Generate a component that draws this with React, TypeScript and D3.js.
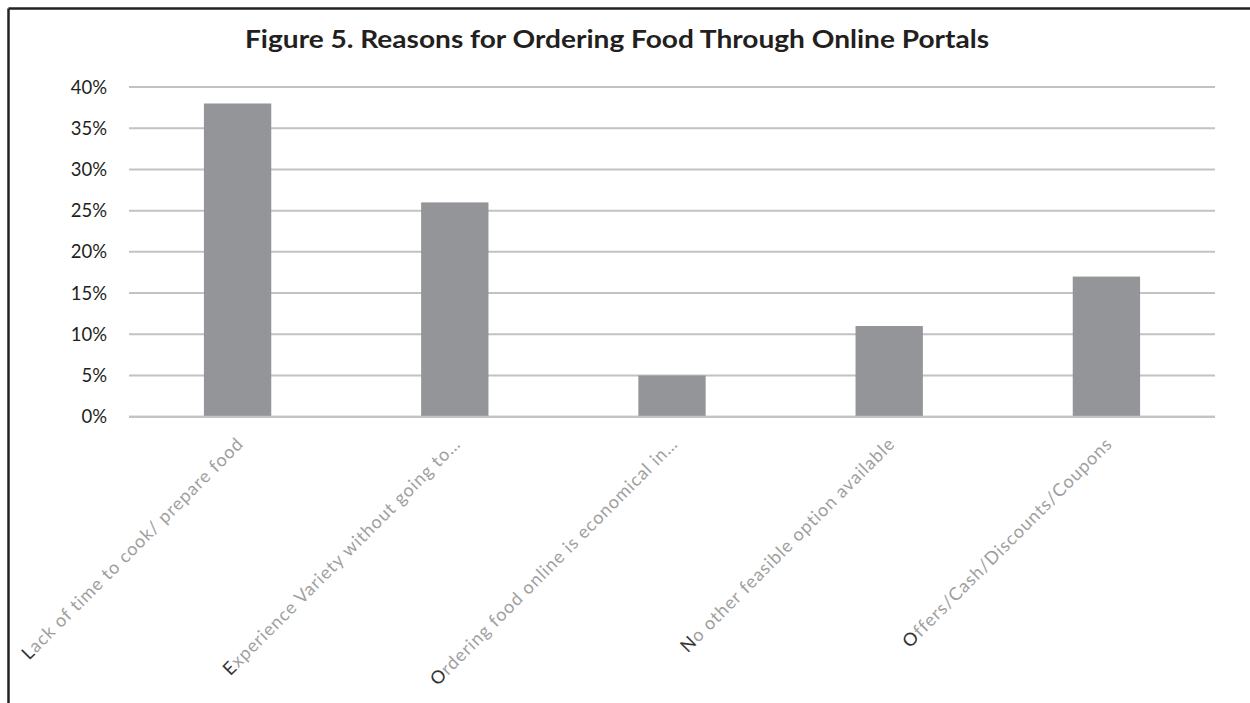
import React from "react";
import * as d3 from "d3";

const title = "Figure 5. Reasons for Ordering Food Through Online Portals";
const categories = [
  "Lack of time to cook/ prepare food",
  "Experience Variety without going to…",
  "Ordering food online is economical in…",
  "No other feasible option available",
  "Offers/Cash/Discounts/Coupons",
];
const values = [0.38, 0.26, 0.05, 0.11, 0.17];
const yTicks = [0, 0.05, 0.1, 0.15, 0.2, 0.25, 0.3, 0.35, 0.4];

export default function App() {
  const W = 1250;
  const H = 703;
  const x = d3
    .scaleBand<string>()
    .domain(categories)
    .range([129, 1215])
    .paddingInner(0.69)
    .paddingOuter(0.345);
  const y = d3.scaleLinear().domain([0, 0.4]).range([416.7, 87]);
  const fmt = d3.format(".0%");
  const font = "Lato, 'Open Sans', 'DejaVu Sans', sans-serif";

  return (
    <svg
      width={W}
      height={H}
      style={{ position: "absolute", left: 0, top: 0, background: "#fff" }}
    >
      <rect x={0} y={0} width={W} height={H} fill="#fff" />
      {/* frame */}
      <line x1={8.5} y1={8.5} x2={W} y2={8.5} stroke="#222" strokeWidth={2.5} />
      <line x1={8.5} y1={8.5} x2={8.5} y2={H} stroke="#222" strokeWidth={2.5} />

      <text
        x={617}
        y={48}
        textAnchor="middle"
        fontFamily={font}
        fontWeight={700}
        fontSize={25}
        fill="#231f20"
        textLength={744}
        lengthAdjust="spacingAndGlyphs"
      >
        {title}
      </text>

      {yTicks.map((t) => (
        <g key={t}>
          <line
            x1={129}
            x2={1215}
            y1={y(t)}
            y2={y(t)}
            stroke="#c2c2c4"
            strokeWidth={2}
          />
          <text
            x={107}
            y={y(t) + 6.5}
            textAnchor="end"
            fontFamily={font}
            fontSize={18.5}
            fill="#231f20"
          >
            {fmt(t)}
          </text>
        </g>
      ))}

      {categories.map((c, i) => (
        <rect
          key={c}
          x={x(c)}
          y={y(values[i])}
          width={x.bandwidth()}
          height={y(0) - y(values[i])}
          fill="#939598"
        />
      ))}
      <line x1={129} x2={1215} y1={y(0)} y2={y(0)} stroke="#c2c2c4" strokeWidth={2} />

      {categories.map((c) => {
        const cx = (x(c) as number) + x.bandwidth() / 2;
        const ax = cx + 7;
        const ay = 445;
        return (
          <text
            key={c}
            transform={`translate(${ax},${ay}) rotate(-45)`}
            textAnchor="end"
            fontFamily={font}
            fontSize={18}
            letterSpacing={0.9}
            fill="#a0a0a0"
          >
            <tspan fill="#333">{c.charAt(0)}</tspan>
            {c.slice(1)}
          </text>
        );
      })}
    </svg>
  );
}
